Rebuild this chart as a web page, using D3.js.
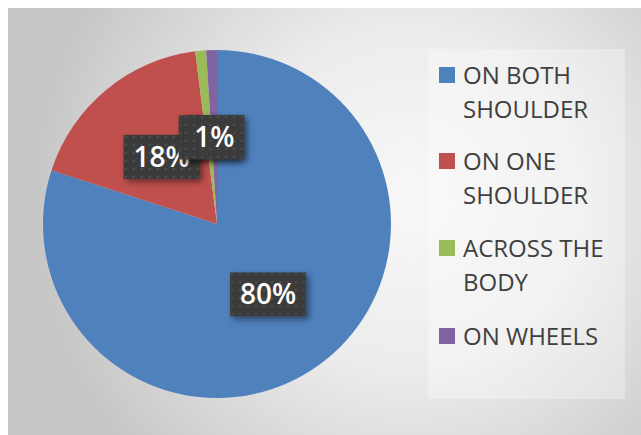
<!DOCTYPE html>
<html>
<head>
<meta charset="utf-8">
<script src="https://cdn.jsdelivr.net/npm/d3@7"></script>
<style>
  html, body { margin: 0; padding: 0; background: #ffffff; }
  svg { display: block; }
</style>
</head>
<body>
<svg id="chart" width="641" height="435"></svg>
<script>
// Ways of carrying a school bag
const categories = ["ON BOTH SHOULDER", "ON ONE SHOULDER", "ACROSS THE BODY", "ON WHEELS"];
const values = [80, 18, 1, 1];
const colors = ["#4f81bd", "#c0504d", "#9bbb59", "#8064a2"];

const W = 641, H = 435;
const svg = d3.select("#chart");
const defs = svg.append("defs");

// chart area background: soft radial grey gradient
const bg = defs.append("radialGradient").attr("id", "bgGrad")
  .attr("gradientUnits", "userSpaceOnUse")
  .attr("cx", 410).attr("cy", 200).attr("r", 380);
bg.append("stop").attr("offset", "0%").attr("stop-color", "#f8f8f8");
bg.append("stop").attr("offset", "45%").attr("stop-color", "#ececec");
bg.append("stop").attr("offset", "100%").attr("stop-color", "#c6c6c6");

// dark dotted fill for data labels
const pat = defs.append("pattern").attr("id", "dots")
  .attr("patternUnits", "userSpaceOnUse").attr("width", 8).attr("height", 8);
pat.append("rect").attr("width", 8).attr("height", 8).attr("fill", "#3b3b3b");
pat.append("rect").attr("x", 3).attr("y", 3).attr("width", 2).attr("height", 2).attr("fill", "#4f4f4f");

const shadow = defs.append("filter").attr("id", "shadow")
  .attr("x", "-30%").attr("y", "-30%").attr("width", "170%").attr("height", "170%");
shadow.append("feDropShadow").attr("dx", 3).attr("dy", 3).attr("stdDeviation", 3)
  .attr("flood-color", "#000").attr("flood-opacity", 0.45);

svg.append("rect").attr("x", 8).attr("y", 8).attr("width", W - 8).attr("height", H - 8)
  .attr("fill", "url(#bgGrad)");

// legend panel
svg.append("rect").attr("x", 428).attr("y", 49).attr("width", 197).attr("height", 350)
  .attr("fill", "#ffffff").attr("fill-opacity", 0.3);

// pie
const cx = 217, cy = 224, r = 174;
const total = d3.sum(values);
const pie = d3.pie().sort(null).value(d => d)(values);
const arc = d3.arc().innerRadius(0).outerRadius(r);

const g = svg.append("g").attr("transform", `translate(${cx},${cy})`);
g.selectAll("path.slice").data(pie).join("path")
  .attr("class", "slice")
  .attr("d", arc)
  .attr("fill", (d, i) => colors[i]);

// data labels at the slice centroids
const fmt = d3.format(".0%");
const labels = g.selectAll("g.lbl").data(pie).join("g")
  .attr("class", "lbl")
  .attr("transform", d => { const c = arc.centroid(d); return `translate(${c[0]},${c[1]})`; });

labels.each(function(d) {
  const sel = d3.select(this);
  const box = sel.append("rect").attr("fill", "url(#dots)").attr("filter", "url(#shadow)");
  const t = sel.append("text")
    .attr("text-anchor", "middle")
    .attr("dy", "0.36em")
    .attr("fill", "#ffffff")
    .style("font-family", "'Open Sans', sans-serif")
    .style("font-size", "28px")
    .style("font-weight", "600")
    .text(fmt(d.data / total));
  const w = t.node().getComputedTextLength() + 20;
  const h = 44;
  box.attr("x", -w / 2).attr("y", -h / 2).attr("width", w).attr("height", h);
});

// legend
const legend = svg.append("g").attr("transform", "translate(439,0)");
const entryTop = [67, 153, 240, 328];
const lineGap = 34;
const maxW = 160;

categories.forEach((name, i) => {
  const eg = legend.append("g").attr("transform", `translate(0,${entryTop[i]})`);
  eg.append("rect").attr("x", 0).attr("y", 0).attr("width", 16).attr("height", 16)
    .attr("fill", colors[i]);
  const txt = eg.append("text")
    .attr("fill", "#404040")
    .style("font-family", "'Open Sans', sans-serif")
    .style("font-size", "24px");
  // word-wrap the category name to the legend width
  const words = name.split(" ");
  let lines = [], cur = "";
  const probe = txt.append("tspan");
  words.forEach(wd => {
    const trial = cur ? cur + " " + wd : wd;
    probe.text(trial);
    if (probe.node().getComputedTextLength() > maxW && cur) { lines.push(cur); cur = wd; }
    else cur = trial;
  });
  lines.push(cur);
  probe.remove();
  lines.forEach((ln, k) => {
    txt.append("tspan").attr("x", 24).attr("y", 17 + k * lineGap).text(ln);
  });
});
</script>
</body>
</html>
